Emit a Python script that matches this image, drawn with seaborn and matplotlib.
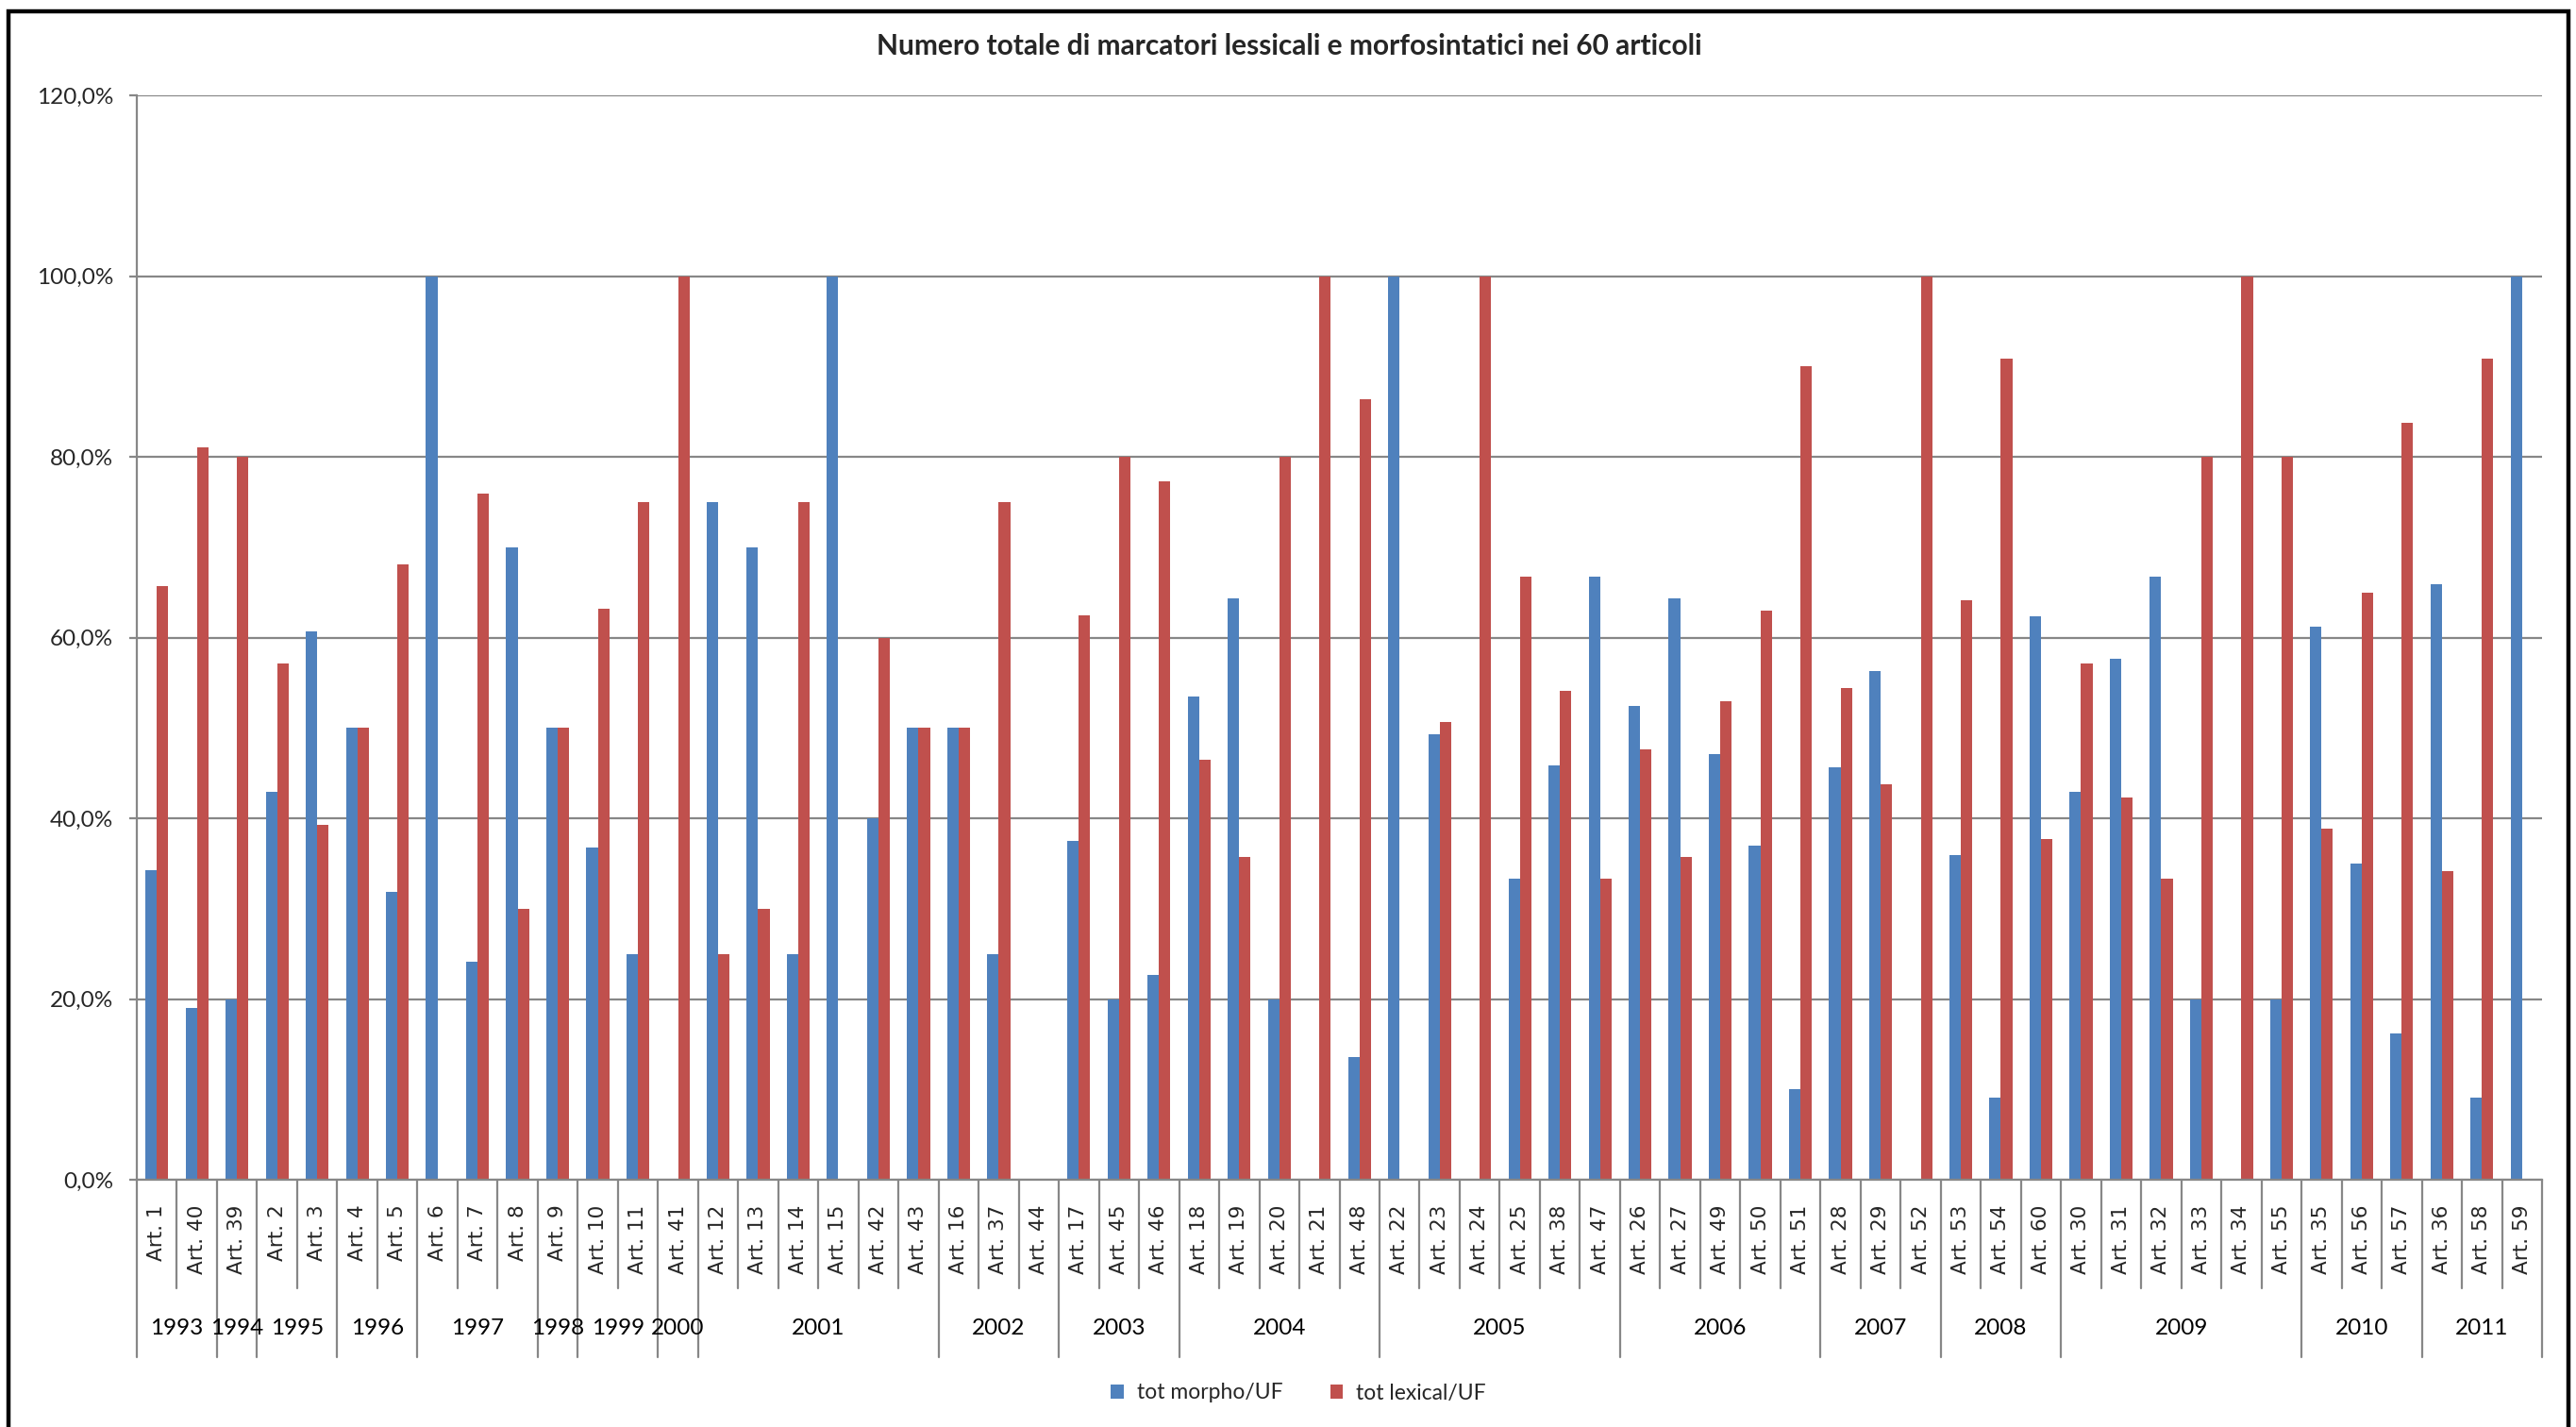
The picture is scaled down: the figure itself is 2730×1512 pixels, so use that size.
import matplotlib
matplotlib.use("Agg")
import matplotlib.pyplot as plt
import matplotlib.transforms as mtransforms
from matplotlib.patches import Rectangle
import pandas as pd
import seaborn as sns

# ---- data -------------------------------------------------------------
articles = [
    "Art. 1", "Art. 40", "Art. 39", "Art. 2", "Art. 3", "Art. 4", "Art. 5",
    "Art. 6", "Art. 7", "Art. 8", "Art. 9", "Art. 10", "Art. 11", "Art. 41",
    "Art. 12", "Art. 13", "Art. 14", "Art. 15", "Art. 42", "Art. 43",
    "Art. 16", "Art. 37", "Art. 44", "Art. 17", "Art. 45", "Art. 46",
    "Art. 18", "Art. 19", "Art. 20", "Art. 21", "Art. 48", "Art. 22",
    "Art. 23", "Art. 24", "Art. 25", "Art. 38", "Art. 47", "Art. 26",
    "Art. 27", "Art. 49", "Art. 50", "Art. 51", "Art. 28", "Art. 29",
    "Art. 52", "Art. 53", "Art. 54", "Art. 60", "Art. 30", "Art. 31",
    "Art. 32", "Art. 33", "Art. 34", "Art. 55", "Art. 35", "Art. 56",
    "Art. 57", "Art. 36", "Art. 58", "Art. 59",
]

years = ["1993", "1994", "1995", "1996", "1997", "1998", "1999", "2000",
         "2001", "2002", "2003", "2004", "2005", "2006", "2007", "2008",
         "2009", "2010", "2011"]
year_sizes = [2, 1, 2, 2, 3, 1, 2, 1, 6, 3, 3, 5, 6, 5, 3, 3, 6, 3, 3]

morpho = [
    34.3, 19.0, 20.0, 42.9, 60.7, 50.0, 31.9, 100.0, 24.1, 70.0,
    50.0, 36.8, 25.0, 0.0, 75.0, 70.0, 25.0, 100.0, 40.0, 50.0,
    50.0, 25.0, 0.0, 37.5, 20.0, 22.7, 53.5, 64.3, 20.0, 0.0,
    13.6, 100.0, 49.3, 0.0, 33.3, 45.9, 66.7, 52.4, 64.3, 47.1,
    37.0, 10.0, 45.6, 56.3, 0.0, 35.9, 9.1, 62.3, 42.9, 57.7,
    66.7, 20.0, 0.0, 20.0, 61.2, 35.0, 16.2, 65.9, 9.1, 100.0,
]
lexical = [
    65.7, 81.0, 80.0, 57.1, 39.3, 50.0, 68.1, 0.0, 75.9, 30.0,
    50.0, 63.2, 75.0, 100.0, 25.0, 30.0, 75.0, 0.0, 60.0, 50.0,
    50.0, 75.0, 0.0, 62.5, 80.0, 77.3, 46.5, 35.7, 80.0, 100.0,
    86.4, 0.0, 50.7, 100.0, 66.7, 54.1, 33.3, 47.6, 35.7, 52.9,
    63.0, 90.0, 54.4, 43.8, 100.0, 64.1, 90.9, 37.7, 57.1, 42.3,
    33.3, 80.0, 100.0, 80.0, 38.8, 65.0, 83.8, 34.1, 90.9, 0.0,
]

series_names = ["tot morpho/UF", "tot lexical/UF"]
y_ticks = [0, 20, 40, 60, 80, 100, 120]
title = "Numero totale di marcatori lessicali e morfosintatici nei 60 articoli"

# ---- style ------------------------------------------------------------
BLUE = "#4F81BD"
RED = "#C0504D"
GRID = "#878787"

sns.set_style("white")
plt.rcParams["font.family"] = ["Lato", "DejaVu Sans"]

df = pd.DataFrame({
    "articolo": articles * 2,
    "valore": morpho + lexical,
    "serie": [series_names[0]] * len(articles) + [series_names[1]] * len(articles),
})

W, H = 2730, 1512
fig = plt.figure(figsize=(W / 100, H / 100), dpi=100)
ax_left, ax_right, ax_top, ax_bottom = 145, 2694, 101, 1250
ax_h = ax_bottom - ax_top
ax = fig.add_axes([ax_left / W, 1 - ax_bottom / H,
                   (ax_right - ax_left) / W, ax_h / H])

sns.barplot(data=df, x="articolo", y="valore", hue="serie",
            order=articles, hue_order=series_names,
            palette=[BLUE, RED], saturation=1, width=0.5714,
            errorbar=None, linewidth=0, ax=ax)

ax.set_xlim(-0.5, len(articles) - 0.5)
ax.set_ylim(0, 120)
ax.set_yticks(y_ticks)
ax.set_yticklabels([f"{v:.1f}%".replace(".", ",") for v in y_ticks])
ax.set_xlabel("")
ax.set_ylabel("")
ax.grid(axis="y", color=GRID, lw=1.6)
ax.grid(axis="x", visible=False)
ax.set_axisbelow(True)
for s in ["top", "right"]:
    ax.spines[s].set_visible(False)
for s in ["left", "bottom"]:
    ax.spines[s].set_color(GRID)
    ax.spines[s].set_linewidth(1.6)

ax.tick_params(axis="y", left=True, length=6, width=1.6, color=GRID,
               pad=12, labelsize=17.5, direction="out")
ax.tick_params(axis="x", bottom=False, length=0, pad=19, labelsize=15.5,
               labelrotation=90)
for lab in ax.get_xticklabels():
    lab.set_fontfamily("DejaVu Sans")

# two-level category axis: article separators and year groups
trans = mtransforms.blended_transform_factory(ax.transData, ax.transAxes)
year_edges = {0}
pos = 0
for n in year_sizes:
    pos += n
    year_edges.add(pos)
for i in range(len(articles) + 1):
    depth = 188 if i in year_edges else 115
    ax.plot([i - 0.5, i - 0.5], [0, -depth / ax_h], transform=trans,
            color=GRID, lw=1.6, clip_on=False)

start = 0
for yr, n in zip(years, year_sizes):
    ax.text(start + (n - 1) / 2, -157 / ax_h, yr, transform=trans,
            ha="center", va="center", fontsize=17.5, color="black")
    start += n

# legend at the bottom
handles, labels = ax.get_legend_handles_labels()
if ax.get_legend() is not None:
    ax.get_legend().remove()
fig.legend(handles, labels, loc="center", bbox_to_anchor=(0.504, 1 - 1476 / H),
           ncol=2, frameon=False, fontsize=16.5, handlelength=0.6,
           handleheight=0.6, handletextpad=0.6, columnspacing=2.2)

fig.text(1366 / W, 1 - 49 / H, title, ha="center", va="center",
         fontsize=21.5, fontweight="bold")

# chart area frame
fig.add_artist(Rectangle((9 / W, -0.02), (2722 - 9) / W, 1 - 12 / H + 0.02,
                         transform=fig.transFigure, fill=False,
                         edgecolor="black", lw=3.2))

fig.savefig("out.png", dpi=100)
